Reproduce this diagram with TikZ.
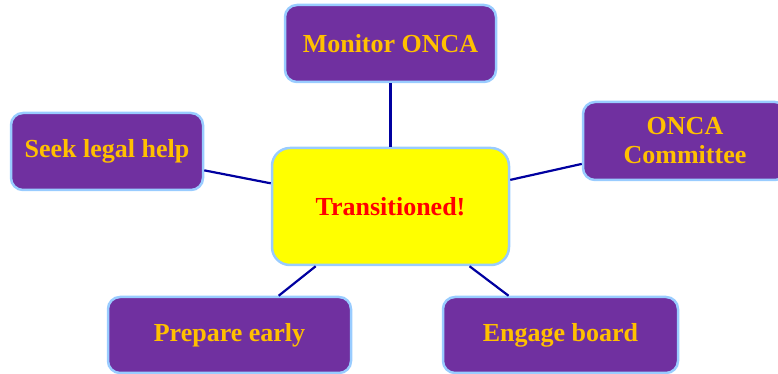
\documentclass[tikz,border=0pt]{standalone}
\usepackage{fontspec}
\setmainfont{Liberation Serif}
\definecolor{viola}{RGB}{112,48,160}
\definecolor{oro}{RGB}{255,192,0}
\definecolor{giallo}{RGB}{255,255,0}
\definecolor{rosso}{RGB}{255,0,0}
\definecolor{bordo}{RGB}{153,204,255}
\definecolor{linea}{RGB}{0,0,160}
\tikzset{
  ramo/.style={draw=bordo, line width=2.5pt, fill=viola, rounded corners=12pt,
    text=oro, font=\bfseries\fontsize{26}{29}\selectfont, align=center, inner sep=0pt},
  centro/.style={draw=bordo, line width=2.5pt, fill=giallo, rounded corners=18pt,
    text=rosso, font=\bfseries\fontsize{26}{29}\selectfont, inner sep=0pt,
    minimum width=237pt, minimum height=117pt},
  collega/.style={draw=linea, line width=2.2pt}
}
\begin{document}
\begin{tikzpicture}[x=1pt,y=1pt]
        % Disegna il riquadro della pagina
        \useasboundingbox (0,0) rectangle (778,374);

        % Disegna il nodo centrale
        \node[centro] (trans) at (390.5,167.5) {Transitioned!};

        % Disegna i rami
        \node[ramo, minimum width=211pt, minimum height=77pt] (monitor) at (390.5,330.5) {Monitor ONCA};
        \node[ramo, minimum width=192pt, minimum height=77pt] (legal) at (107,222.5) {Seek legal help};
        \node[ramo, minimum width=204pt, minimum height=78pt] (comitato) at (685,233) {ONCA\\Committee};
        \node[ramo, minimum width=243pt, minimum height=76pt] (prepare) at (229.5,39) {Prepare early};
        \node[ramo, minimum width=235pt, minimum height=76pt] (board) at (560.5,39) {Engage board};

        % Disegna i collegamenti
        \foreach \r in {monitor,legal,comitato,prepare,board} {
            \draw[collega] (trans) -- (\r);
        }
\end{tikzpicture}
\end{document}
